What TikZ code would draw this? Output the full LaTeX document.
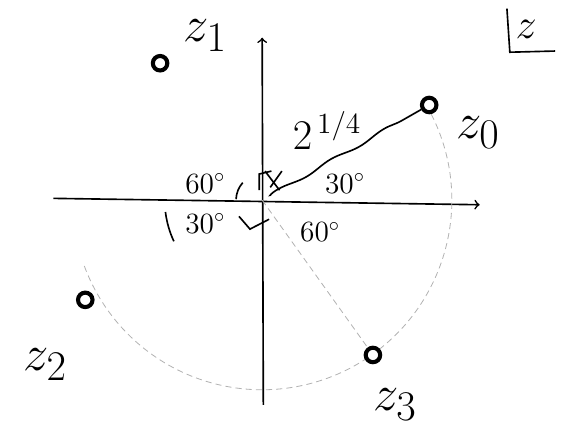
\documentclass[tikz,border=0pt]{standalone}
\usetikzlibrary{decorations.pathmorphing}

\tikzset{
    root/.style={circle, draw, line width=2pt, fill=white, inner sep=0pt, minimum size=0.25cm},
    rootlabel/.style={font=\Huge},
    anglelabel/.style={font=\Large},
    faint/.style={gray!60, densely dashed, line width=0.4pt}
}

\begin{document}
\begin{tikzpicture}

    \useasboundingbox (-4.52,-4.02) rectangle (5.48,3.45);

    \coordinate (O) at (0,0);
    \coordinate (xmin) at (-3.6,0.03);
    \coordinate (xmax) at (3.75,-0.08);
    \coordinate (ymin) at (0.02,-3.53);
    \coordinate (ymax) at (0,2.8);

    \draw[thick, ->] (xmin) -- (xmax);
    \draw[thick, ->] (ymin) -- (ymax);

    \draw[faint] (30:3.27) arc[start angle=30, end angle=-160, radius=3.27];

    \node[root] (z0) at (2.88,1.64) {};
    \node[root] (z1) at (-1.76,2.36) {};
    \node[root] (z2) at (-3.05,-1.72) {};
    \node[root] (z3) at (1.91,-2.67) {};

    \node[rootlabel] (lz0) at (3.72,1.16) {$z_0$};
    \node[rootlabel] (lz1) at (-0.98,2.84) {$z_1$};
    \node[rootlabel] (lz2) at (-3.74,-2.84) {$z_2$};
    \node[rootlabel] (lz3) at (2.29,-3.53) {$z_3$};

    \draw[thick, shorten <=5pt, decorate,
        decoration={snake, amplitude=0.8pt, segment length=30pt}] (O) -- (z0);
    \draw[faint] (O) -- (z3);

    \node[font=\huge] (radius) at (1.12,1.2) {$2^{\,1/4}$};

    \node[anglelabel] (a60l) at (-0.98,0.29) {$60^\circ$};
    \node[anglelabel] (a30r) at (1.43,0.29) {$30^\circ$};
    \node[anglelabel] (a30l) at (-0.98,-0.40) {$30^\circ$};
    \node[anglelabel] (a60r) at (1.0,-0.55) {$60^\circ$};

    \draw[thick] (138:0.45) arc[start angle=138, end angle=178, radius=0.45];
    \draw[thick] (187:1.68) arc[start angle=187, end angle=205, radius=1.68];

    \draw[thick] (-0.05,0.17) -- (-0.05,0.45) -- (0.16,0.5);
    \draw[thick] (0.05,0.5) -- (0.3,0.17);
    \draw[thick] (0.14,0.22) -- (0.34,0.5);
    \draw[thick] (-0.4,-0.28) -- (-0.21,-0.5) -- (0.12,-0.33);

    \node[font=\huge] (plane) at (4.55,2.95) {$z$};
    \draw[thick] (4.22,3.3) -- (4.27,2.55) -- (5.05,2.57);

\end{tikzpicture}
\end{document}
